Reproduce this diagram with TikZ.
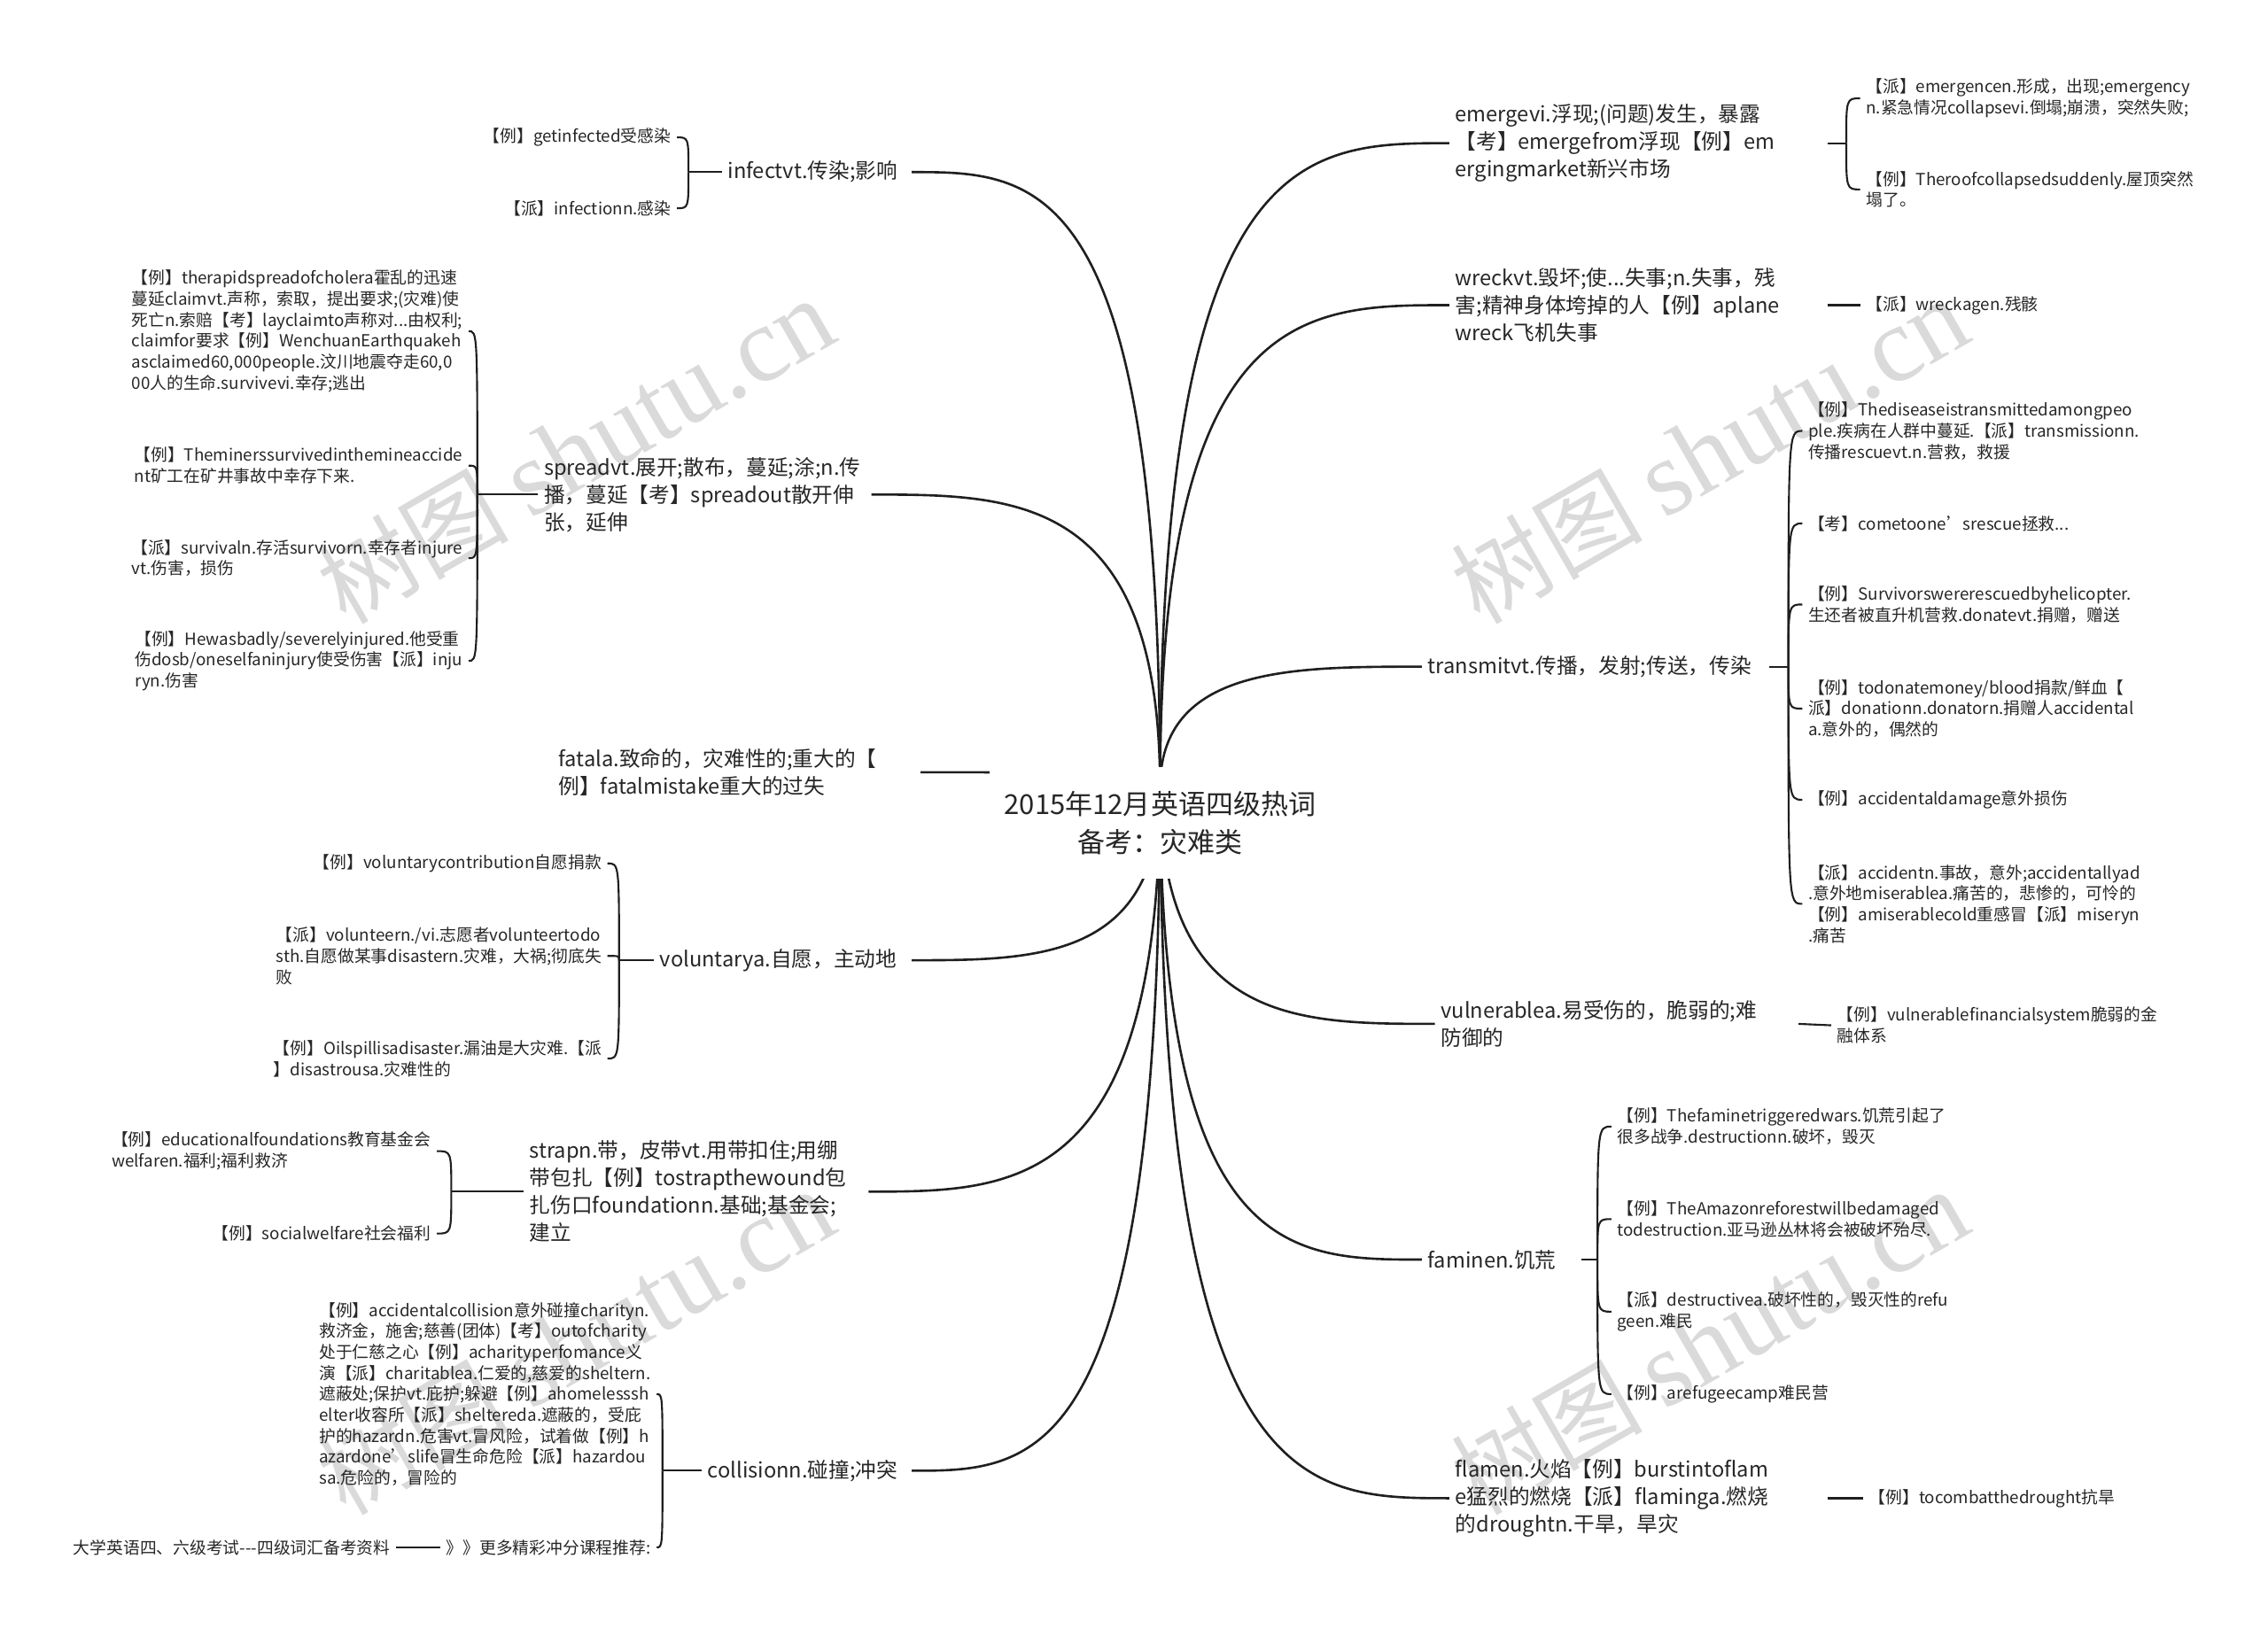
\documentclass[tikz,border=0pt]{standalone}
\usepackage{fontspec}
\setmainfont{Noto Sans CJK SC}
\newfontfamily\wmlatin{Liberation Serif}
\usepackage{tikz}
\usetikzlibrary{calc,positioning}
\usepackage{xcolor}
\definecolor{inkgray}{RGB}{38,38,38}
\definecolor{markgray}{RGB}{218,218,218}

\begin{document}
\begin{tikzpicture}[x=1pt,y=-1pt]
  \tikzset{
    txt/.style={inner xsep=4pt,inner ysep=2pt,text=inkgray,align=left},
    main/.style={txt,anchor=west,font=\fontsize{14.5}{19}\selectfont},
    leafr/.style={txt,anchor=west,font=\fontsize{11.5}{14.5}\selectfont},
    leafl/.style={leafr,anchor=east},
    branch/.style={draw=black!88,line width=1.6pt},
    brace/.style={draw=black!88,line width=1.3pt},
    wmark/.style={text=markgray,rotate=30,font=\fontsize{66}{66}\selectfont},
  }
  \useasboundingbox (0,0) rectangle (1568,1131);

  % watermarks
  \node[wmark] (markA) at (398,312) {树图 {\wmlatin\fontsize{74}{74}\selectfont shutu.cn}};
  \node[wmark] (markB) at (398,928) {树图 {\wmlatin\fontsize{74}{74}\selectfont shutu.cn}};
  \node[wmark] (markC) at (1182,312) {树图 {\wmlatin\fontsize{74}{74}\selectfont shutu.cn}};
  \node[wmark] (markD) at (1182,928) {树图 {\wmlatin\fontsize{74}{74}\selectfont shutu.cn}};

  \coordinate (root) at (802,545);

  % right half
  \node[main,text width=253pt] (emerge) at (1002,99) {emergevi.浮现;(问题)发生，暴露\\【考】emergefrom浮现【例】em\\ergingmarket新兴市场};
  \node[leafr] (emergence) at (1286,68) {【派】emergencen.形成，出现;emergency\\n.紧急情况collapsevi.倒塌;崩溃，突然失败;};
  \node[leafr] (roof) at (1286,131) {【例】Theroofcollapsedsuddenly.屋顶突然\\塌了。};

  \node[main,text width=253pt] (wreck) at (1002,211) {wreckvt.毁坏;使...失事;n.失事，残\\害;精神身体垮掉的人【例】aplane\\wreck飞机失事};
  \node[leafr] (wreckage) at (1286,211) {【派】wreckagen.残骸};

  \node[main,text width=232pt] (transmit) at (983,461) {transmitvt.传播，发射;传送，传染};
  \node[leafr] (disease) at (1246,298) {【例】Thediseaseistransmittedamongpeo\\ple.疾病在人群中蔓延.【派】transmissionn.\\传播rescuevt.n.营救，救援};
  \node[leafr] (rescue) at (1246,362) {【考】cometoone’srescue拯救...};
  \node[leafr] (helicopter) at (1246,418) {【例】Survivorswererescuedbyhelicopter.\\生还者被直升机营救.donatevt.捐赠，赠送};
  \node[leafr] (donate) at (1246,490) {【例】todonatemoney/blood捐款/鲜血【\\派】donationn.donatorn.捐赠人accidental\\a.意外的，偶然的};
  \node[leafr] (damage) at (1246,553) {【例】accidentaldamage意外损伤};
  \node[leafr] (misery) at (1246,625) {【派】accidentn.事故，意外;accidentallyad\\.意外地miserablea.痛苦的，悲惨的，可怜的\\【例】amiserablecold重感冒【派】miseryn\\.痛苦};

  \node[main,text width=243pt] (vulnerable) at (992,708) {vulnerablea.易受伤的，脆弱的;难\\防御的};
  \node[leafr] (financial) at (1266,709) {【例】vulnerablefinancialsystem脆弱的金\\融体系};

  \node[main,text width=102pt] (famine) at (983,871) {faminen.饥荒};
  \node[leafr] (wars) at (1114,779) {【例】Thefaminetriggeredwars.饥荒引起了\\很多战争.destructionn.破坏，毁灭};
  \node[leafr] (amazon) at (1114,843) {【例】TheAmazonreforestwillbedamaged\\todestruction.亚马逊丛林将会被破坏殆尽.};
  \node[leafr] (refugee) at (1114,907) {【派】destructivea.破坏性的，毁灭性的refu\\geen.难民};
  \node[leafr] (camp) at (1114,964) {【例】arefugeecamp难民营};

  \node[main,text width=253pt] (flame) at (1002,1036) {flamen.火焰【例】burstintoflam\\e猛烈的燃烧【派】flaminga.燃烧\\的droughtn.干旱，旱灾};
  \node[leafr] (drought) at (1288,1036) {【例】tocombatthedrought抗旱};

  % left half
  \node[main,text width=123pt] (infect) at (499,119) {infectvt.传染;影响};
  \node[leafl] (getinf) at (468,95) {【例】getinfected受感染};
  \node[leafl] (infection) at (468,144) {【派】infectionn.感染};

  \node[main,text width=222pt] (spread) at (372,342) {spreadvt.展开;散布，蔓延;涂;n.传\\播，蔓延【考】spreadout散开伸\\张，延伸};
  \node[leafl] (cholera) at (324,229) {【例】therapidspreadofcholera霍乱的迅速\\蔓延claimvt.声称，索取，提出要求;(灾难)使\\死亡n.索赔【考】layclaimto声称对...由权利;\\claimfor要求【例】WenchuanEarthquakeh\\asclaimed60,000people.汶川地震夺走60,0\\00人的生命.survivevi.幸存;逃出};
  \node[leafl] (miners) at (324,322) {【例】Theminerssurvivedinthemineaccide\\nt矿工在矿井事故中幸存下来.};
  \node[leafl] (survival) at (324,386) {【派】survivaln.存活survivorn.幸存者injure\\vt.伤害，损伤};
  \node[leafl] (injury) at (324,457) {【例】Hewasbadly/severelyinjured.他受重\\伤dosb/oneselfaninjury使受伤害【派】inju\\ryn.伤害};

  \node[main,text width=246pt] (fatal) at (382,534) {fatala.致命的，灾难性的;重大的【\\例】fatalmistake重大的过失};

  \node[main,text width=170pt] (voluntary) at (452,664) {voluntarya.自愿，主动地};
  \node[leafl] (contribution) at (420,597) {【例】voluntarycontribution自愿捐款};
  \node[leafl] (volunteer) at (420,661) {【派】volunteern./vi.志愿者volunteertodo\\sth.自愿做某事disastern.灾难，大祸;彻底失\\败};
  \node[leafl] (oilspill) at (420,732) {【例】Oilspillisadisaster.漏油是大灾难.【派\\】disastrousa.灾难性的};

  \node[main,text width=230pt] (strap) at (362,824) {strapn.带，皮带vt.用带扣住;用绷\\带包扎【例】tostrapthewound包\\扎伤口foundationn.基础;基金会;\\建立};
  \node[leafl] (educational) at (302,796) {【例】educationalfoundations教育基金会\\welfaren.福利;福利救济};
  \node[leafl] (social) at (302,853) {【例】socialwelfare社会福利};

  \node[main,text width=137pt] (collision) at (485,1017) {collisionn.碰撞;冲突};
  \node[leafl] (charity) at (454,964) {【例】accidentalcollision意外碰撞charityn.\\救济金，施舍;慈善(团体)【考】outofcharity\\处于仁慈之心【例】acharityperfomance义\\演【派】charitablea.仁爱的,慈爱的sheltern.\\遮蔽处;保护vt.庇护;躲避【例】ahomelesssh\\elter收容所【派】sheltereda.遮蔽的，受庇\\护的hazardn.危害vt.冒风险，试着做【例】h\\azardone’slife冒生命危险【派】hazardou\\sa.危险的，冒险的};
  \node[leafl] (courses) at (454,1070) {》》更多精彩冲分课程推荐:};
  \node[leafl] (cet) at (274,1070) {大学英语四、六级考试-{}-{}-四级词汇备考资料};

  % joints of the braces
  \coordinate (emergeJ) at ($(emerge.east)+(13,0)$);
  \coordinate (transmitJ) at ($(transmit.east)+(13,0)$);
  \coordinate (famineJ) at ($(famine.east)+(11,0)$);
  \coordinate (infectJ) at ($(infect.west)+(-23,0)$);
  \coordinate (spreadJ) at ($(spread.west)+(-42,0)$);
  \coordinate (voluntaryJ) at ($(voluntary.west)+(-24,0)$);
  \coordinate (strapJ) at ($(strap.west)+(-50,0)$);
  \coordinate (collisionJ) at ($(collision.west)+(-27,0)$);

  % main branches
  \draw[branch] (root) .. controls (root |- emerge.west) and ($(root |- emerge.west)!0.5!(emerge.west)$) .. (emerge.west);
  \draw[branch] (root) .. controls (root |- wreck.west) and ($(root |- wreck.west)!0.5!(wreck.west)$) .. (wreck.west);
  \draw[branch] (root) .. controls (root |- transmit.west) and ($(root |- transmit.west)!0.5!(transmit.west)$) .. (transmit.west);
  \draw[branch] (root) .. controls (root |- vulnerable.west) and ($(root |- vulnerable.west)!0.5!(vulnerable.west)$) .. (vulnerable.west);
  \draw[branch] (root) .. controls (root |- famine.west) and ($(root |- famine.west)!0.5!(famine.west)$) .. (famine.west);
  \draw[branch] (root) .. controls (root |- flame.west) and ($(root |- flame.west)!0.5!(flame.west)$) .. (flame.west);
  \draw[branch] (root) .. controls (root |- infect.east) and ($(root |- infect.east)!0.5!(infect.east)$) .. (infect.east);
  \draw[branch] (root) .. controls (root |- spread.east) and ($(root |- spread.east)!0.5!(spread.east)$) .. (spread.east);
  \draw[branch] (root) .. controls (root |- fatal.east) and ($(root |- fatal.east)!0.5!(fatal.east)$) .. (fatal.east);
  \draw[branch] (root) .. controls (root |- voluntary.east) and ($(root |- voluntary.east)!0.5!(voluntary.east)$) .. (voluntary.east);
  \draw[branch] (root) .. controls (root |- strap.east) and ($(root |- strap.east)!0.5!(strap.east)$) .. (strap.east);
  \draw[branch] (root) .. controls (root |- collision.east) and ($(root |- collision.east)!0.5!(collision.east)$) .. (collision.east);

  % braces and stubs, right
  \draw[brace] (emerge.east) -- (emergeJ);
  \draw[brace] (emergeJ) .. controls (emergeJ |- emergence.west) and (emergeJ |- emergence.west) .. (emergence.west);
  \draw[brace] (emergeJ) .. controls (emergeJ |- roof.west) and (emergeJ |- roof.west) .. (roof.west);
  \draw[brace] (wreck.east) -- (wreckage.west);
  \draw[brace] (transmit.east) -- (transmitJ);
  \draw[brace] (transmitJ) .. controls (transmitJ |- disease.west) and (transmitJ |- disease.west) .. (disease.west);
  \draw[brace] (transmitJ) .. controls (transmitJ |- rescue.west) and (transmitJ |- rescue.west) .. (rescue.west);
  \draw[brace] (transmitJ) .. controls (transmitJ |- helicopter.west) and (transmitJ |- helicopter.west) .. (helicopter.west);
  \draw[brace] (transmitJ) .. controls (transmitJ |- donate.west) and (transmitJ |- donate.west) .. (donate.west);
  \draw[brace] (transmitJ) .. controls (transmitJ |- damage.west) and (transmitJ |- damage.west) .. (damage.west);
  \draw[brace] (transmitJ) .. controls (transmitJ |- misery.west) and (transmitJ |- misery.west) .. (misery.west);
  \draw[brace] (vulnerable.east) -- (financial.west);
  \draw[brace] (famine.east) -- (famineJ);
  \draw[brace] (famineJ) .. controls (famineJ |- wars.west) and (famineJ |- wars.west) .. (wars.west);
  \draw[brace] (famineJ) .. controls (famineJ |- amazon.west) and (famineJ |- amazon.west) .. (amazon.west);
  \draw[brace] (famineJ) .. controls (famineJ |- refugee.west) and (famineJ |- refugee.west) .. (refugee.west);
  \draw[brace] (famineJ) .. controls (famineJ |- camp.west) and (famineJ |- camp.west) .. (camp.west);
  \draw[brace] (flame.east) -- (drought.west);

  % braces and stubs, left
  \draw[brace] (infect.west) -- (infectJ);
  \draw[brace] (infectJ) .. controls (infectJ |- getinf.east) and (infectJ |- getinf.east) .. (getinf.east);
  \draw[brace] (infectJ) .. controls (infectJ |- infection.east) and (infectJ |- infection.east) .. (infection.east);
  \draw[brace] (spread.west) -- (spreadJ);
  \draw[brace] (spreadJ) .. controls (spreadJ |- cholera.east) and (spreadJ |- cholera.east) .. (cholera.east);
  \draw[brace] (spreadJ) .. controls (spreadJ |- miners.east) and (spreadJ |- miners.east) .. (miners.east);
  \draw[brace] (spreadJ) .. controls (spreadJ |- survival.east) and (spreadJ |- survival.east) .. (survival.east);
  \draw[brace] (spreadJ) .. controls (spreadJ |- injury.east) and (spreadJ |- injury.east) .. (injury.east);
  \draw[brace] (voluntary.west) -- (voluntaryJ);
  \draw[brace] (voluntaryJ) .. controls (voluntaryJ |- contribution.east) and (voluntaryJ |- contribution.east) .. (contribution.east);
  \draw[brace] (voluntaryJ) .. controls (voluntaryJ |- volunteer.east) and (voluntaryJ |- volunteer.east) .. (volunteer.east);
  \draw[brace] (voluntaryJ) .. controls (voluntaryJ |- oilspill.east) and (voluntaryJ |- oilspill.east) .. (oilspill.east);
  \draw[brace] (strap.west) -- (strapJ);
  \draw[brace] (strapJ) .. controls (strapJ |- educational.east) and (strapJ |- educational.east) .. (educational.east);
  \draw[brace] (strapJ) .. controls (strapJ |- social.east) and (strapJ |- social.east) .. (social.east);
  \draw[brace] (collision.west) -- (collisionJ);
  \draw[brace] (collisionJ) .. controls (collisionJ |- charity.east) and (collisionJ |- charity.east) .. (charity.east);
  \draw[brace] (collisionJ) .. controls (collisionJ |- courses.east) and (collisionJ |- courses.east) .. (courses.east);
  \draw[brace] (courses.west) -- (cet.east);

  % centre topic
  \node[fill=white,inner xsep=10pt,inner ysep=17pt,align=center,text=inkgray,font=\fontsize{19}{26}\selectfont] (topic) at (802,569) {2015年12月英语四级热词\\备考：灾难类};
\end{tikzpicture}
\end{document}
